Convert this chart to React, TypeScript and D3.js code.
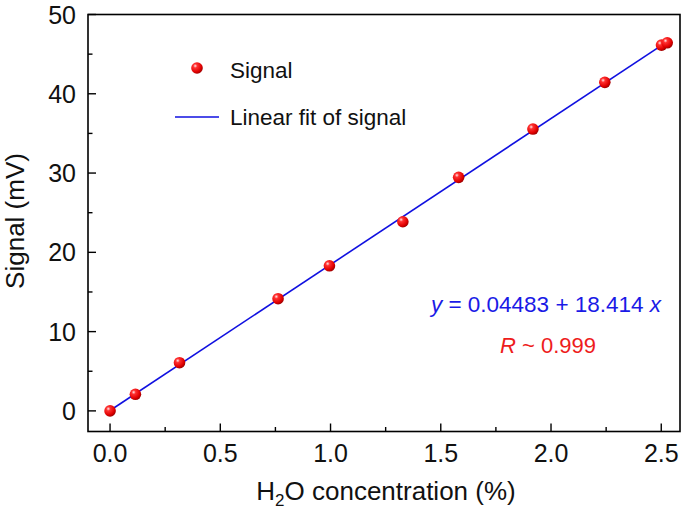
import React from "react";
import * as d3 from "d3";

const concentration = [0, 0.115, 0.315, 0.762, 0.995, 1.328, 1.581, 1.918, 2.244, 2.501, 2.527];
const signal = [0.0, 2.09, 6.08, 14.15, 18.3, 23.86, 29.46, 35.55, 41.44, 46.14, 46.43];
const xTicks = [0, 0.5, 1.0, 1.5, 2.0, 2.5];
const xMinor = [0.25, 0.75, 1.25, 1.75, 2.25];
const yTicks = [0, 10, 20, 30, 40, 50];
const yMinor = [5, 15, 25, 35, 45];
const fitIntercept = 0.04483;
const fitSlope = 18.414;
const fitRange = [0, 2.527];

const W = 685, H = 515;
const L = 88, R = 680, T = 14.5, B = 431.5;
const FONT = "'Liberation Sans', Arial, Helvetica, sans-serif";

export default function App() {
  const x = d3.scaleLinear().domain([-0.1, 2.585]).range([L, R]);
  const y = d3.scaleLinear().domain([-2.6, 50]).range([B, T]);
  const fitLine = d3.line<number>().x(d => x(d)).y(d => y(fitIntercept + fitSlope * d));
  return (
    <svg width={W} height={H} style={{ position: "absolute", left: 0, top: 0, background: "#fff" }}>
      <defs>
        <radialGradient id="ball" cx="0.35" cy="0.32" r="0.7">
          <stop offset="0" stopColor="#ffe8e8" />
          <stop offset="0.25" stopColor="#ff3030" />
          <stop offset="0.75" stopColor="#e00000" />
          <stop offset="1" stopColor="#a00000" />
        </radialGradient>
      </defs>
      <rect x={0} y={0} width={W} height={H} fill="#fff" />
      <path d={fitLine(fitRange) || ""} stroke="#1010e0" strokeWidth={1.6} fill="none" />
      {concentration.map((c, i) => (
        <circle key={i} cx={x(c)} cy={y(signal[i])} r={5.8} fill="url(#ball)" />
      ))}
      <rect x={L} y={T} width={R - L} height={B - T} fill="none" stroke="#000" strokeWidth={1.6} />
      {xTicks.map(t => (
        <g key={"x" + t}>
          <line x1={x(t)} x2={x(t)} y1={B} y2={B - 8} stroke="#000" strokeWidth={1.4} />
          <text x={x(t)} y={462} textAnchor="middle" fontFamily={FONT} fontSize={25} fill="#111">{d3.format(".1f")(t)}</text>
        </g>
      ))}
      {xMinor.map(t => (
        <line key={"xm" + t} x1={x(t)} x2={x(t)} y1={B} y2={B - 4.5} stroke="#000" strokeWidth={1.4} />
      ))}
      {yTicks.map(t => (
        <g key={"y" + t}>
          <line x1={L} x2={L + 8} y1={y(t)} y2={y(t)} stroke="#000" strokeWidth={1.4} />
          <text x={76} y={y(t)} dy="0.36em" textAnchor="end" fontFamily={FONT} fontSize={25} fill="#111">{t}</text>
        </g>
      ))}
      {yMinor.map(t => (
        <line key={"ym" + t} x1={L} x2={L + 4.5} y1={y(t)} y2={y(t)} stroke="#000" strokeWidth={1.4} />
      ))}
      <text x={386} y={500} textAnchor="middle" fontFamily={FONT} fontSize={26} fill="#111">
        H<tspan fontSize={17} dy={6}>2</tspan><tspan dy={-6}>O concentration (%)</tspan>
      </text>
      <text transform={`translate(23.5,221) rotate(-90)`} textAnchor="middle" fontFamily={FONT} fontSize={26} fill="#111">Signal (mV)</text>
      <circle cx={197} cy={68} r={5.8} fill="url(#ball)" />
      <text x={230} y={78} fontFamily={FONT} fontSize={22.5} fill="#111">Signal</text>
      <line x1={175} x2={219} y1={117} y2={117} stroke="#1010e0" strokeWidth={1.6} />
      <text x={230} y={125} fontFamily={FONT} fontSize={22.5} fill="#111">Linear fit of signal</text>
      <text x={546} y={312} textAnchor="middle" fontFamily={FONT} fontSize={22.5} fill="#1a1ae6">
        <tspan fontStyle="italic">y</tspan> = 0.04483 + 18.414 <tspan fontStyle="italic">x</tspan>
      </text>
      <text x={548} y={353} textAnchor="middle" fontFamily={FONT} fontSize={22} fill="#ee1c1c">
        <tspan fontStyle="italic">R</tspan> ~ 0.999
      </text>
    </svg>
  );
}
